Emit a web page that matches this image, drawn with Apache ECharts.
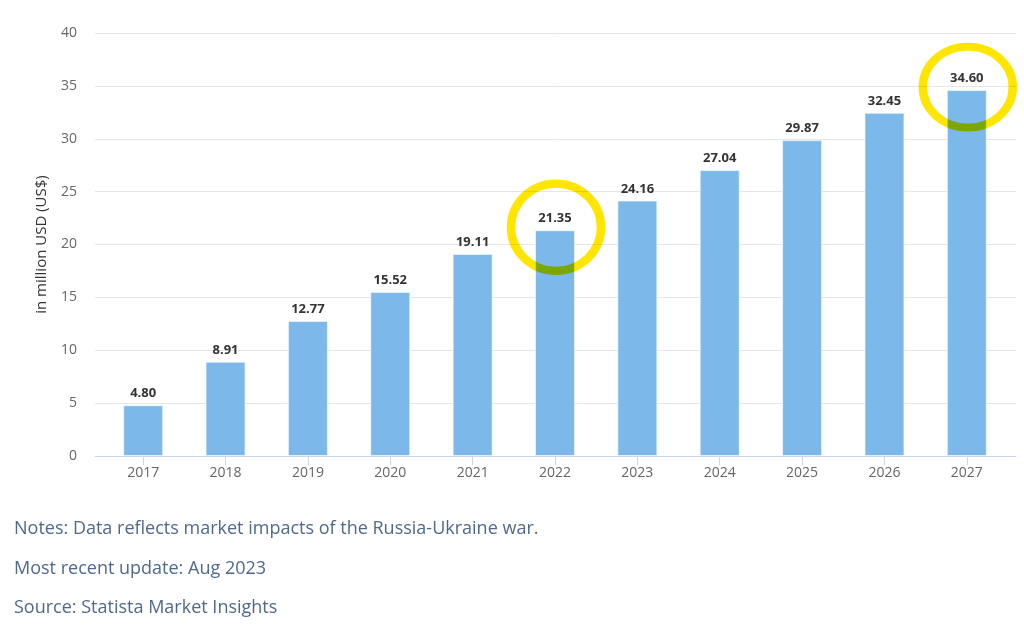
<!DOCTYPE html>
<html><head><meta charset="utf-8">
<script src="https://cdn.jsdelivr.net/npm/echarts@6/dist/echarts.min.js"></script>
<style>html,body{margin:0;padding:0;background:#fff}#c{width:1024px;height:629px}</style>
</head><body><div id="c"></div>
<script>
var years = ['2017','2018','2019','2020','2021','2022','2023','2024','2025','2026','2027'];
var revenue = [4.80, 8.91, 12.77, 15.52, 19.11, 21.35, 24.16, 27.04, 29.87, 32.45, 34.60];
var highlighted = ['2022','2027'];
var yTicks = {min: 0, max: 40, interval: 5};
var axisTitle = 'in million USD (US$)';
var notes = ['Notes: Data reflects market impacts of the Russia-Ukraine war.', 'Most recent update: Aug 2023', 'Source: Statista Market Insights'];

var FONT = '"Open Sans", "Noto Sans", sans-serif';
var chart = echarts.init(document.getElementById('c'), null, {renderer: 'canvas'});
var option = {
  animation: false,
  grid: [
    {left: 95, right: 8, top: 33, bottom: 173},
    {left: 102, right: 16, top: 33, bottom: 173}
  ],
  xAxis: [
    {type: 'category', gridIndex: 0, data: years, axisLine: {lineStyle: {color: '#ccd6eb', width: 1}},
     axisTick: {show: false}, axisLabel: {show: false}},
    {type: 'category', gridIndex: 1, data: years, axisLine: {show: false},
     axisTick: {show: true, alignWithLabel: true, length: 9, lineStyle: {color: '#ccd6eb'}},
     axisLabel: {color: '#666', fontSize: 14, fontFamily: FONT, margin: 10}}
  ],
  yAxis: [
    {type: 'value', gridIndex: 0, min: yTicks.min, max: yTicks.max, interval: yTicks.interval,
     name: axisTitle, nameLocation: 'middle', nameGap: 46, nameRotate: 90,
     nameTextStyle: {color: '#333', fontSize: 15, fontFamily: FONT},
     axisLine: {show: false}, axisTick: {show: false},
     axisLabel: {color: '#666', fontSize: 14, fontFamily: FONT, margin: 18},
     splitLine: {lineStyle: {color: '#e6e6e6', width: 1}}},
    {type: 'value', gridIndex: 1, min: yTicks.min, max: yTicks.max, interval: yTicks.interval,
     show: false, splitLine: {show: false}}
  ],
  series: [{
    type: 'bar', xAxisIndex: 1, yAxisIndex: 1, data: revenue, barWidth: 40,
    itemStyle: {color: '#7cb9ea', borderColor: 'rgba(255,255,255,0.6)', borderWidth: 1},
    label: {show: true, position: 'top', distance: 5, color: '#333', fontWeight: 'bold',
      fontSize: 13, fontFamily: FONT, formatter: function(p){ return p.value.toFixed(2); }}
  }],
  graphic: notes.map(function(t, i){
    return {type: 'text', left: 14, top: 520 + i * 39.5, style: {text: t, fill: '#50698a', font: '18px ' + FONT}};
  })
};
chart.setOption(option);

var ringScaleY = [0.97, 0.9];
var rings = highlighted.map(function(y, k){
  var idx = years.indexOf(y);
  var p = chart.convertToPixel({xAxisIndex: 1, yAxisIndex: 1}, [idx, revenue[idx]]);
  return {type: 'circle', x: p[0] + 1, y: p[1] - 3, scaleX: 1, scaleY: ringScaleY[k],
    shape: {cx: 0, cy: 0, r: 45}, z: 100,
    style: {fill: 'none', stroke: '#ffe500', lineWidth: 8.5, blend: 'multiply'}};
});
chart.setOption({graphic: option.graphic.concat(rings)});
</script></body></html>
